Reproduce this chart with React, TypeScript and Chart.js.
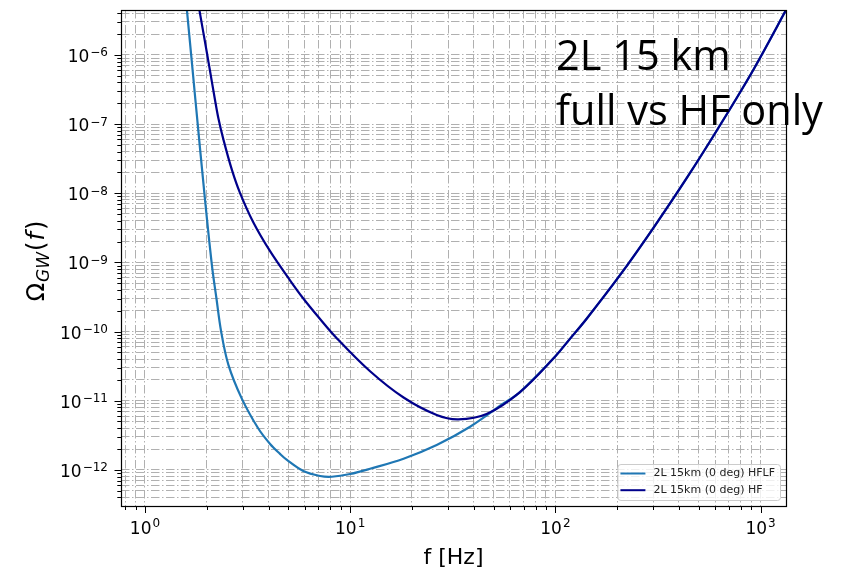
import React, { useEffect, useRef } from 'react';
import { Chart, registerables } from 'chart.js';

Chart.register(...registerables);

// ---------- data ----------
const freqHFLF = [1.57, 1.6, 1.76, 1.96, 2.12, 2.23, 2.35, 2.55, 2.96, 3.56, 4.07, 4.55, 4.9, 5.91, 7.13, 8.13, 10, 12.5, 18.2, 26.4, 38.4, 55.8, 67, 97.7, 118, 142, 206, 300, 437, 641, 921, 1330, 1400];
const omegaHFLF = [7.4e-6, 4.5e-6, 2.26e-7, 8.2e-9, 9.0e-10, 3.0e-10, 1.0e-10, 3.3e-11, 1.08e-11, 3.99e-12, 2.37e-12, 1.7e-12, 1.4e-12, 9.6e-13, 8.15e-13, 7.95e-13, 8.7e-13, 1.035e-12, 1.45e-12, 2.29e-12, 4.2e-12, 9.1e-12, 1.32e-11, 4.06e-11, 7.9e-11, 1.53e-10, 6.46e-10, 3.13e-9, 1.66e-8, 1.01e-7, 6.05e-7, 4.45e-6, 6.0e-6];

const freqHF = [1.8, 1.84, 2.0, 2.07, 2.19, 2.28, 2.41, 2.65, 2.9, 3.37, 4.07, 5.09, 5.91, 7.0, 8.6, 12.5, 18.2, 26.4, 33.6, 46.2, 67, 97.7, 118, 142, 206, 300, 437, 641, 921, 1330, 1400];
const omegaHF = [6.4e-6, 4.5e-6, 1.1e-6, 6.1e-7, 2.3e-7, 1.2e-7, 6.0e-8, 2.19e-8, 1.02e-8, 3.8e-9, 1.45e-9, 5.5e-10, 3.0e-10, 1.62e-10, 8.0e-11, 2.66e-11, 1.11e-11, 6.2e-12, 5.37e-12, 6.4e-12, 1.32e-11, 4.06e-11, 7.9e-11, 1.53e-10, 6.46e-10, 3.13e-9, 1.66e-8, 1.01e-7, 6.05e-7, 4.45e-6, 6.0e-6];

const seriesLabels = ['2L 15km (0 deg) HFLF', '2L 15km (0 deg) HF'];
const seriesColors = ['#1f77b4', '#00008b'];

const xMajorExponents = [0, 1, 2, 3];
const yMajorExponents = [-12, -11, -10, -9, -8, -7, -6];
const minorMultipliers = [2, 3, 4, 5, 6, 7, 8, 9];
const xLimits = [0.764, 1330];
const yLimits = [3.2e-13, 4.45e-6];

const xTitle = 'f [Hz]';
const annotationLines = ['2L 15 km', 'full vs HF only'];

// ---------- helpers ----------
function buildLogTicks(exps: number[], min: number, max: number) {
  const ticks: { value: number; major: boolean }[] = [];
  const lo = Math.min(...exps) - 1;
  const hi = Math.max(...exps) + 1;
  for (let e = lo; e <= hi; e++) {
    for (const m of [1, ...minorMultipliers]) {
      const v = Number(`${m}e${e}`);
      if (v >= min && v <= max) ticks.push({ value: v, major: m === 1 });
    }
  }
  return ticks;
}

const BASE_FONT = '17px "DejaVu Sans"';
const SUP_FONT = '12px "DejaVu Sans"';

function supText(exp: number) {
  return exp < 0 ? '\u2212' + Math.abs(exp) : String(exp);
}

function drawPower(ctx: CanvasRenderingContext2D, exp: number, x: number, yBase: number, ySup: number, align: 'right' | 'center') {
  ctx.font = BASE_FONT;
  const wb = ctx.measureText('10').width;
  ctx.font = SUP_FONT;
  const sup = supText(exp);
  const ws = ctx.measureText(sup).width;
  const total = wb + ws + 1;
  const x0 = align === 'right' ? x - total : x - total / 2;
  ctx.textAlign = 'left';
  ctx.textBaseline = 'alphabetic';
  ctx.font = BASE_FONT;
  ctx.fillText('10', x0, yBase);
  ctx.font = SUP_FONT;
  ctx.fillText(sup, x0 + wb + 1, ySup);
}

const decorPlugin = {
  id: 'decor',
  beforeDraw(chart: any) {
    const ctx = chart.ctx as CanvasRenderingContext2D;
    ctx.save();
    ctx.fillStyle = '#ffffff';
    ctx.fillRect(0, 0, chart.width, chart.height);
    ctx.restore();
  },
  afterDraw(chart: any) {
    const ctx = chart.ctx as CanvasRenderingContext2D;
    const { left, right, top, bottom } = chart.chartArea;
    const xs = chart.scales.x;
    const ys = chart.scales.y;
    ctx.save();

    // frame
    ctx.strokeStyle = '#000';
    ctx.lineWidth = 1.2;
    ctx.strokeRect(Math.round(left) + 0.5, Math.round(top) + 0.5, Math.round(right - left), Math.round(bottom - top));

    // tick marks
    ctx.lineWidth = 1;
    ctx.beginPath();
    for (const t of xs.ticks) {
      const px = Math.round(xs.getPixelForValue(t.value)) + 0.5;
      ctx.moveTo(px, bottom);
      ctx.lineTo(px, bottom + (t.major ? 7 : 4));
    }
    for (const t of ys.ticks) {
      const py = Math.round(ys.getPixelForValue(t.value)) + 0.5;
      ctx.moveTo(left, py);
      ctx.lineTo(left - (t.major ? 6.5 : 3.7), py);
    }
    ctx.stroke();

    // tick labels
    ctx.fillStyle = '#000';
    for (const e of xMajorExponents) {
      const px = xs.getPixelForValue(Math.pow(10, e));
      drawPower(ctx, e, px, bottom + 28, bottom + 21, 'center');
    }
    for (const e of yMajorExponents) {
      const py = ys.getPixelForValue(Math.pow(10, e));
      drawPower(ctx, e, left - 13, py + 7, py + 1.5, 'right');
    }

    // x title
    ctx.font = '22px "DejaVu Sans"';
    ctx.textAlign = 'center';
    ctx.textBaseline = 'alphabetic';
    ctx.fillText(xTitle, (left + right) / 2, chart.height - 5);

    // y title  Ω_GW(f)
    const parts: { t: string; font: string; dy: number; gap: number }[] = [
      { t: '\u03A9', font: '24px "DejaVu Sans"', dy: 0, gap: 1 },
      { t: 'GW', font: 'italic 17px "DejaVu Sans"', dy: 5, gap: 1 },
      { t: '(', font: '24px "DejaVu Sans"', dy: 0, gap: 1 },
      { t: 'f', font: 'italic 24px "DejaVu Sans"', dy: 0, gap: 2 },
      { t: ')', font: '24px "DejaVu Sans"', dy: 0, gap: 0 },
    ];
    let total = 0;
    const widths = parts.map((p) => {
      ctx.font = p.font;
      const w = ctx.measureText(p.t).width;
      total += w + p.gap;
      return w;
    });
    ctx.translate(44, (top + bottom) / 2 + 3);
    ctx.rotate(-Math.PI / 2);
    ctx.textAlign = 'left';
    let u = -total / 2;
    parts.forEach((p, i) => {
      ctx.font = p.font;
      ctx.fillText(p.t, u, p.dy);
      u += widths[i] + p.gap;
    });
    ctx.setTransform(1, 0, 0, 1, 0, 0);

    // legend (lower right inside axes)
    ctx.font = '11px "DejaVu Sans"';
    const textW = Math.max(...seriesLabels.map((s) => ctx.measureText(s).width));
    const boxRight = right - 6;
    const boxBottom = bottom - 6;
    const boxW = 36 + textW + 5;
    const boxH = 36;
    const boxLeft = boxRight - boxW;
    const boxTop = boxBottom - boxH;
    ctx.beginPath();
    if ((ctx as any).roundRect) (ctx as any).roundRect(boxLeft + 0.5, boxTop + 0.5, boxW, boxH, 3);
    else ctx.rect(boxLeft + 0.5, boxTop + 0.5, boxW, boxH);
    ctx.fillStyle = 'rgba(255,255,255,0.8)';
    ctx.fill();
    ctx.strokeStyle = '#cccccc';
    ctx.lineWidth = 1;
    ctx.stroke();
    seriesLabels.forEach((lab, i) => {
      const ry = boxTop + 9.5 + i * 16.7;
      ctx.strokeStyle = seriesColors[i];
      ctx.lineWidth = 2;
      ctx.beginPath();
      ctx.moveTo(boxLeft + 3, ry);
      ctx.lineTo(boxLeft + 28, ry);
      ctx.stroke();
      ctx.fillStyle = '#222';
      ctx.textAlign = 'left';
      ctx.textBaseline = 'middle';
      ctx.fillText(lab, boxLeft + 36, ry);
    });

    // slide annotation
    ctx.fillStyle = '#000';
    ctx.font = '41.5px "Open Sans"';
    ctx.textAlign = 'left';
    ctx.textBaseline = 'alphabetic';
    ctx.fillText(annotationLines[0], 556, 70);
    ctx.fillText(annotationLines[1], 556, 125);

    ctx.restore();
  },
};

export default function App() {
  const ref = useRef<HTMLCanvasElement>(null);
  useEffect(() => {
    const canvas = ref.current;
    if (!canvas) return;
    const gridDash = [8.5, 2.5, 1.5, 2.5];
    const chart = new Chart(canvas, {
      type: 'line',
      data: {
        datasets: [
          {
            label: seriesLabels[0],
            data: freqHFLF.map((f, i) => ({ x: f, y: omegaHFLF[i] })),
            borderColor: seriesColors[0],
            backgroundColor: seriesColors[0],
            borderWidth: 2.2,
            pointRadius: 0,
            tension: 0.35,
            fill: false,
            order: 1,
            clip: 0,
          },
          {
            label: seriesLabels[1],
            data: freqHF.map((f, i) => ({ x: f, y: omegaHF[i] })),
            borderColor: seriesColors[1],
            backgroundColor: seriesColors[1],
            borderWidth: 2.2,
            pointRadius: 0,
            tension: 0.35,
            fill: false,
            order: 0,
            clip: 0,
          },
        ],
      },
      options: {
        responsive: false,
        maintainAspectRatio: false,
        animation: false,
        devicePixelRatio: 1,
        events: [],
        layout: { padding: { left: 0, right: 55, top: 10, bottom: 0 } },
        plugins: { legend: { display: false }, tooltip: { enabled: false }, title: { display: false } },
        scales: {
          x: {
            type: 'logarithmic',
            min: xLimits[0],
            max: xLimits[1],
            ticks: { display: false },
            grid: { color: '#b0b0b0', lineWidth: 1, drawTicks: false },
            border: { display: false, dash: gridDash },
            afterBuildTicks: (scale: any) => {
              scale.ticks = buildLogTicks(xMajorExponents, xLimits[0], xLimits[1]);
            },
            afterFit: (scale: any) => {
              scale.height = 63;
            },
          },
          y: {
            type: 'logarithmic',
            min: yLimits[0],
            max: yLimits[1],
            ticks: { display: false },
            grid: { color: '#b0b0b0', lineWidth: 1, drawTicks: false },
            border: { display: false, dash: gridDash },
            afterBuildTicks: (scale: any) => {
              scale.ticks = buildLogTicks(yMajorExponents, yLimits[0], yLimits[1]);
            },
            afterFit: (scale: any) => {
              scale.width = 121;
            },
          },
        },
      } as any,
      plugins: [decorPlugin],
    });
    return () => chart.destroy();
  }, []);
  return (
    <div style={{ position: 'fixed', left: 0, top: 0, width: 841, height: 569, background: '#fff' }}>
      <canvas ref={ref} width={841} height={569} style={{ display: 'block', width: 841, height: 569 }} />
    </div>
  );
}
